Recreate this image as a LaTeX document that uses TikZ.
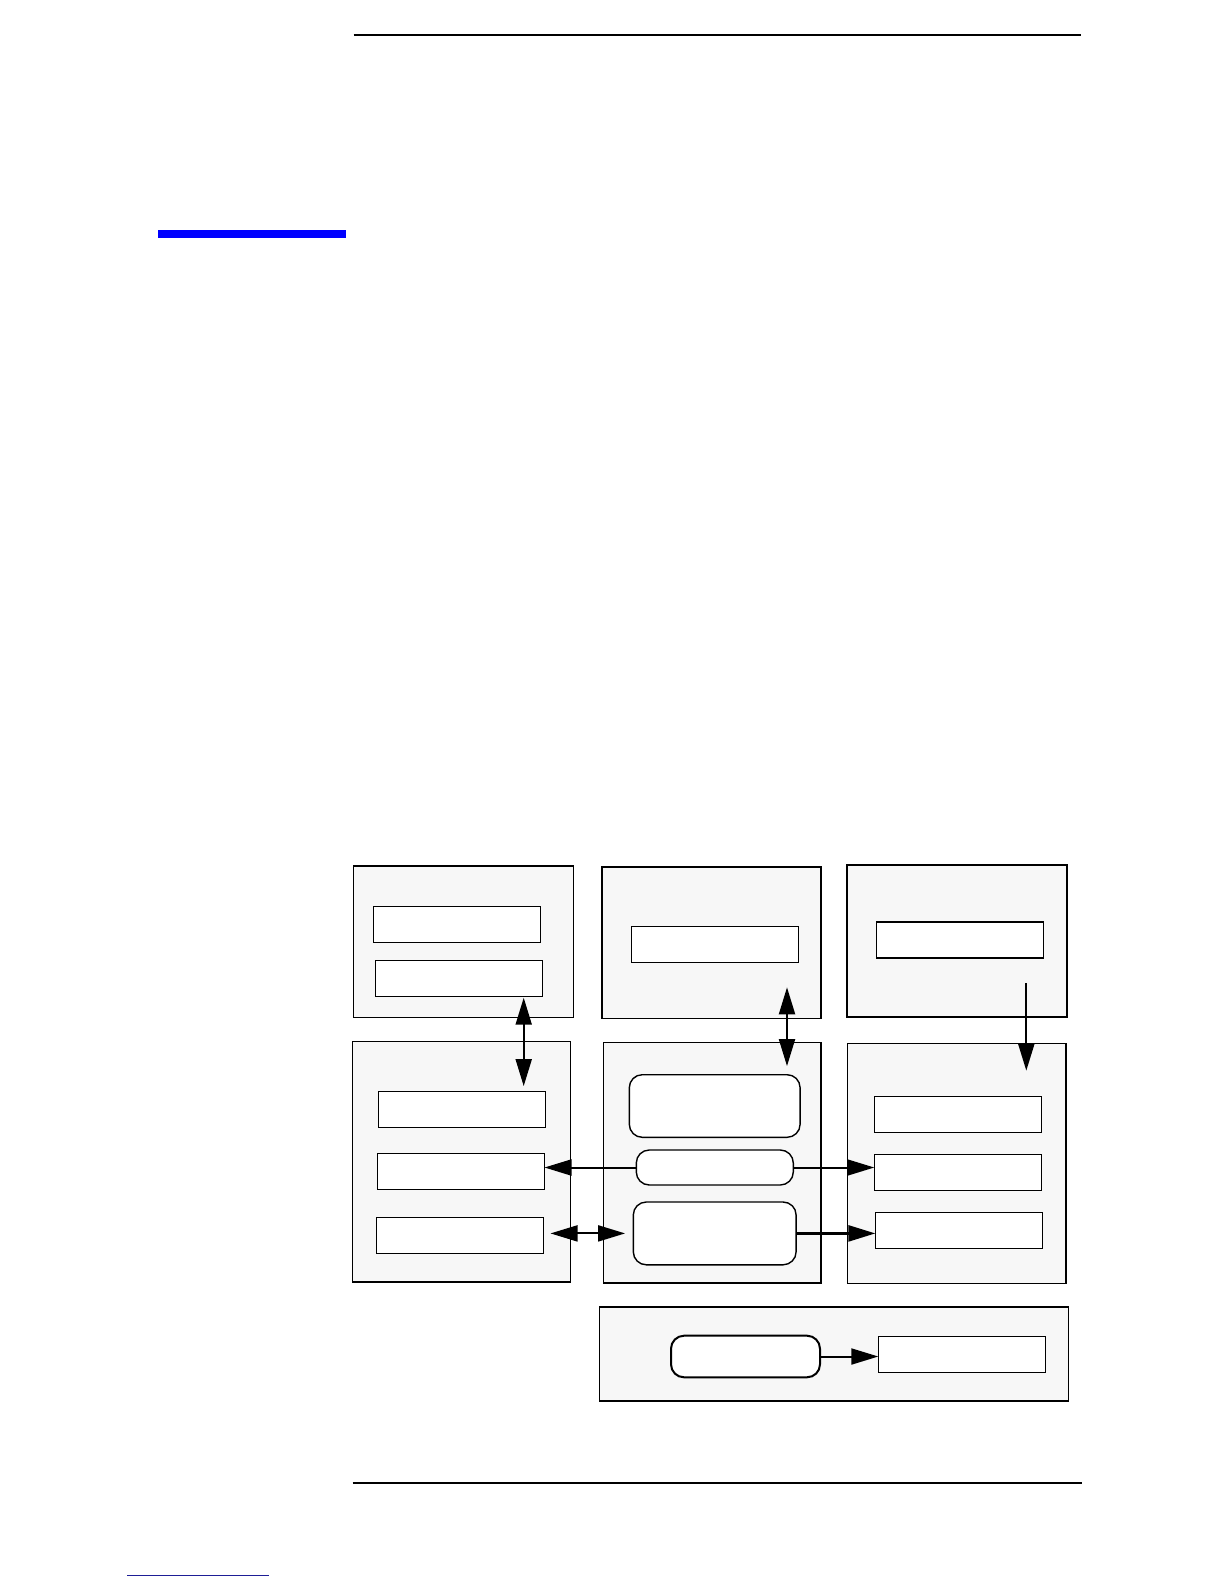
\documentclass[tikz,border=0pt]{standalone}
\usepackage{xcolor}
\usetikzlibrary{arrows.meta}
\definecolor{grpfill}{gray}{0.97}
\definecolor{barblue}{RGB}{0,0,255}
\definecolor{linkblue}{RGB}{30,30,150}
\tikzset{
  group/.style={draw, fill=grpfill, line width=0.8pt, anchor=north west, inner sep=0pt, outer sep=0pt},
  box/.style={draw, fill=white, line width=0.7pt, anchor=north west, inner sep=0pt, outer sep=0pt,
    minimum width=83.6pt, minimum height=18pt},
  rbox/.style={box, rounded corners=6.5pt},
  link/.style={line width=1pt, -{Triangle[length=13.5pt,width=8pt]}},
  dbllink/.style={line width=1pt, {Triangle[length=13.5pt,width=8pt]}-{Triangle[length=13.5pt,width=8pt]}}
}
\begin{document}
\begin{tikzpicture}[x=0.5pt, y=-0.5pt]
  \useasboundingbox (0,0) rectangle (1224,1584);
  % page rules
  \draw[line width=1pt] (353.5,35.5) -- (1081,35.5);
  \fill[barblue] (158,230) rectangle (345.5,237.7);
  \draw[line width=1.1pt] (352.5,1483.3) -- (1082,1483.3);
  \draw[linkblue, line width=0.5pt] (127,1575) -- (269,1575);
  % groups
  \node[group, minimum width=110pt, minimum height=75.8pt] (gTL) at (353.3,865.7) {};
  \node[group, minimum width=109.7pt, minimum height=75.8pt] (gTM) at (601.7,866.7) {};
  \node[group, minimum width=110pt, minimum height=76pt] (gTR) at (846.7,864.7) {};
  \node[group, minimum width=109pt, minimum height=120.2pt] (gML) at (352.3,1041.3) {};
  \node[group, minimum width=108.8pt, minimum height=120.2pt] (gMM) at (603.3,1042.3) {};
  \node[group, minimum width=109.2pt, minimum height=120pt] (gMR) at (847.3,1043.3) {};
  \node[group, minimum width=234.5pt, minimum height=47pt] (gB) at (599.3,1306.7) {};
  % boxes
  \node[box] (tl1) at (373.3,906.7) {};
  \node[box] (tl2) at (375.3,960.7) {};
  \node[box] (tm1) at (631.3,926.3) {};
  \node[box] (tr1) at (876.3,922) {};
  \node[box] (ml1) at (378.3,1091.3) {};
  \node[box] (ml2) at (377.3,1153.3) {};
  \node[box] (ml3) at (376.3,1217.3) {};
  \node[box] (mr1) at (874.3,1096.3) {};
  \node[box] (mr2) at (874.3,1154.3) {};
  \node[box] (mr3) at (875.3,1212.7) {};
  \node[box] (b2) at (878.3,1336.3) {};
  \node[rbox, minimum width=85.4pt, minimum height=31.3pt] (r1) at (629.3,1074.7) {};
  \node[rbox, minimum width=78.5pt, minimum height=17.5pt] (r2) at (636.3,1150) {};
  \node[rbox, minimum width=81.4pt, minimum height=31.4pt] (r3) at (633.3,1202) {};
  \node[rbox, line width=1pt, minimum width=74.5pt, minimum height=20.8pt] (b1) at (671,1335.7) {};
  % connectors
  \coordinate (xl) at (523.7,0);
  \coordinate (xm) at (787,0);
  \coordinate (xr) at (1026.3,0);
  \draw[dbllink, shorten <=0.5pt, shorten >=2.6pt] (tl2.south -| xl) -- (ml1.north -| xl);
  \draw[dbllink, shorten <=12.5pt, shorten >=4.3pt] (tm1.south -| xm) -- (r1.north -| xm);
  \draw[link, line width=1.1pt, shorten <=12.5pt, shorten >=12.8pt] (tr1.south -| xr) -- (mr1.north -| xr);
  \draw[link] (r2.west) -- (r2.west -| ml2.east);
  \draw[link] (r2.east) -- (r2.east -| mr2.west);
  \draw[dbllink, shorten <=3.5pt, shorten >=4.1pt] (ml3.east |- r3.west) -- (r3.west);
  \draw[link, line width=1.3pt] (r3.east) -- (r3.east -| mr3.west);
  \draw[link] (b1.east) -- (b1.east -| b2.west);
\end{tikzpicture}
\end{document}
